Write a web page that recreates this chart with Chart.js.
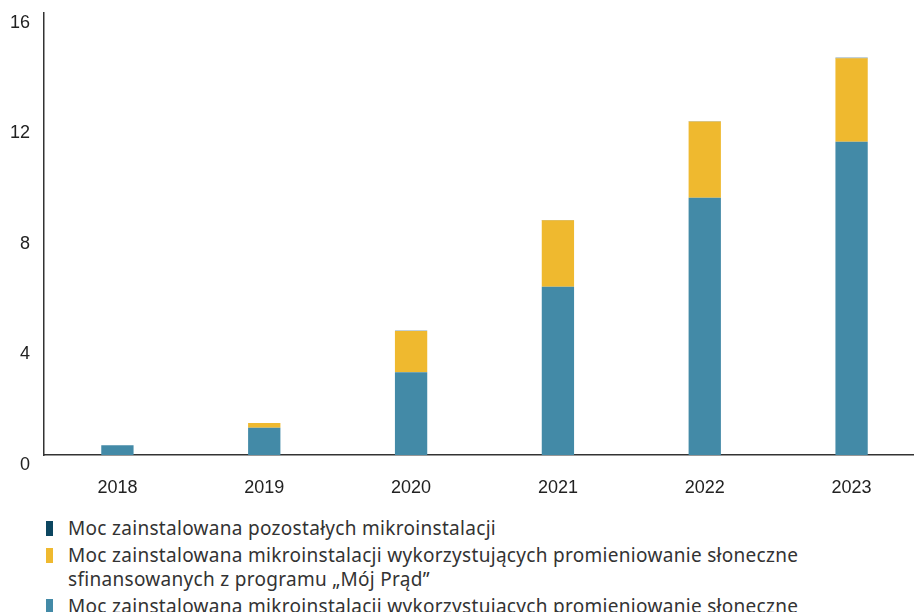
<!DOCTYPE html>
<html>
<head>
<meta charset="utf-8">
<script src="https://cdn.jsdelivr.net/npm/chart.js@4.4.0/dist/chart.umd.min.js"></script>
<style>
    body { margin: 0; background: #fff; }
    #wrap { position: relative; width: 914px; height: 612px; overflow: hidden; }
    #legend { position: absolute; left: 46px; top: 516px; width: 900px; font-family: "Noto Sans", sans-serif; font-size: 19px; letter-spacing: 0.3px; color: #333; }
    .item { position: relative; padding-left: 22px; line-height: 24px; margin-bottom: 3px; }
    .item span.box { position: absolute; left: 0; top: 5px; width: 7px; height: 15px; }
</style>
</head>
<body>
<div id="wrap">
    <canvas id="chart" width="925" height="512"></canvas>
    <div id="legend"></div>
</div>
<script>
// Data (GW)
const years = ['2018', '2019', '2020', '2021', '2022', '2023'];
const solarOther = [0.35, 0.99, 3.00, 6.09, 9.31, 11.34];
const mojPrad = [0.00, 0.17, 1.49, 2.41, 2.76, 3.02];
const otherMicro = [0.00, 0.00, 0.01, 0.01, 0.01, 0.02];
const yTicks = [0, 4, 8, 12, 16];

const seriesNames = [
    'Moc zainstalowana mikroinstalacji wykorzystujących promieniowanie słoneczne',
    'Moc zainstalowana mikroinstalacji wykorzystujących promieniowanie słoneczne\nsfinansowanych z programu „Mój Prąd”',
    'Moc zainstalowana pozostałych mikroinstalacji'
];
const colors = ['#438aa7', '#efb92f', '#0c4660'];

const ctx = document.getElementById('chart');
new Chart(ctx, {
    type: 'bar',
    data: {
        labels: years,
        datasets: [
            { label: seriesNames[0], data: solarOther, backgroundColor: colors[0] },
            { label: seriesNames[1], data: mojPrad, backgroundColor: colors[1] },
            { label: seriesNames[2], data: otherMicro, backgroundColor: colors[2] }
        ]
    },
    options: {
        responsive: false,
        animation: false,
        layout: { padding: { top: 13, right: 0, left: 0, bottom: 0 } },
        datasets: { bar: { barPercentage: 0.22, categoryPercentage: 1.0 } },
        plugins: { legend: { display: false }, tooltip: { enabled: false } },
        scales: {
            x: {
                stacked: true,
                grid: { display: false, drawTicks: false },
                border: { display: true, color: '#333', width: 1.5 },
                ticks: { color: '#222', padding: 22, font: { family: 'Liberation Sans', size: 18 } },
                afterFit: s => { s.height = 57; s.paddingLeft = 0; s.paddingRight = 0; }
            },
            y: {
                stacked: true,
                min: 0,
                max: 16,
                grid: { display: false, drawTicks: false },
                border: { display: true, color: '#333', width: 1.5 },
                afterBuildTicks: s => { s.ticks = yTicks.map(v => ({ value: v })); },
                ticks: { color: '#222', padding: 14, labelOffset: 10, font: { family: 'Liberation Sans', size: 18 } },
                afterFit: s => { s.width = 44; s.paddingTop = 0; s.paddingBottom = 0; }
            }
        }
    }
});

// Legend (reverse order, as in the original)
const legend = document.getElementById('legend');
[2, 1, 0].forEach(i => {
    const div = document.createElement('div');
    div.className = 'item';
    div.innerHTML = '<span class="box" style="background:' + colors[i] + '"></span>' +
        seriesNames[i].replace('\n', '<br>');
    legend.appendChild(div);
});
</script>
</body>
</html>
